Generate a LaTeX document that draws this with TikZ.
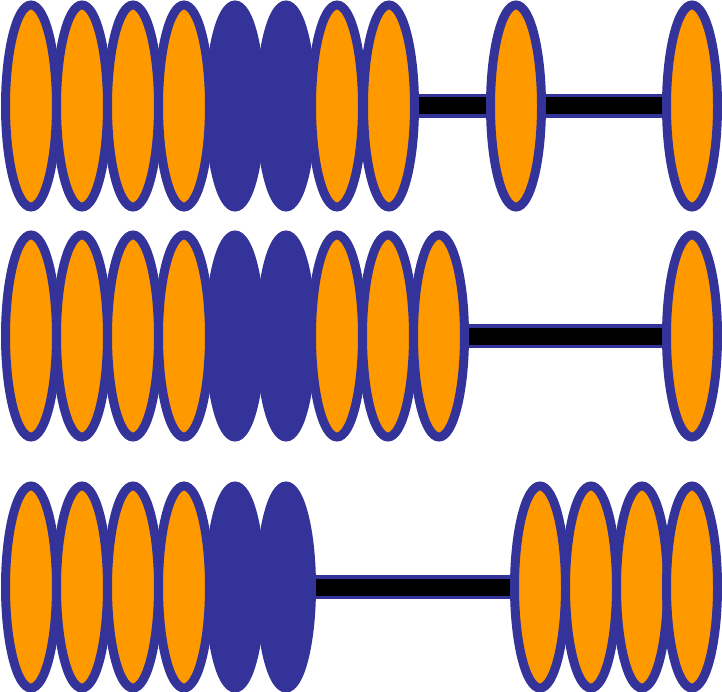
\documentclass[tikz,border=0pt]{standalone}
\usetikzlibrary{shapes.geometric,backgrounds}
\definecolor{beadblue}{HTML}{333399}
\definecolor{beadorange}{HTML}{FF9900}
\tikzset{
	bead/.style={ellipse,draw=beadblue,fill=beadorange,line width=9pt,
		minimum width=51pt,minimum height=202pt,inner sep=0pt},
	darkbead/.style={bead,fill=beadblue},
	rod/.style={line width=24pt,draw=beadblue},
	rodcore/.style={line width=17pt,draw=black}
}
\begin{document}
\begin{tikzpicture}[x=1pt,y=-1pt]
	\useasboundingbox (0,0) rectangle (722,692);
	
	% first row
	\node[bead] (r1a) at (31,106){};
	\node[bead] (r1b) at (82,106){};
	\node[bead] (r1c) at (133,106){};
	\node[bead] (r1d) at (184,106){};
	\node[darkbead] (r1e) at (235,106){};
	\node[darkbead] (r1f) at (286,106){};
	\node[bead] (r1g) at (337,106){};
	\node[bead] (r1h) at (389,106){};
	\node[bead] (r1i) at (516,106){};
	\node[bead] (r1j) at (692,106){};
	
	% second row
	\node[bead] (r2a) at (31,336){};
	\node[bead] (r2b) at (82,336){};
	\node[bead] (r2c) at (133,336){};
	\node[bead] (r2d) at (184,336){};
	\node[darkbead] (r2e) at (235,336){};
	\node[darkbead] (r2f) at (286,336){};
	\node[bead] (r2g) at (337,336){};
	\node[bead] (r2h) at (388,336){};
	\node[bead] (r2i) at (439,336){};
	\node[bead] (r2j) at (692,336){};
	
	% third row
	\node[bead] (r3a) at (31,587){};
	\node[bead] (r3b) at (82,587){};
	\node[bead] (r3c) at (133,587){};
	\node[bead] (r3d) at (184,587){};
	\node[darkbead] (r3e) at (235,587){};
	\node[darkbead] (r3f) at (286,587){};
	\node[bead] (r3g) at (540,587){};
	\node[bead] (r3h) at (591,587){};
	\node[bead] (r3i) at (642,587){};
	\node[bead] (r3j) at (692,587){};
	
	% rods
	\begin{scope}[on background layer]
	\draw[rod](r1h.center)--(r1j.center);
	\draw[rodcore](r1h.center)--(r1j.center);
	\draw[rod](r2i.center)--(r2j.center);
	\draw[rodcore](r2i.center)--(r2j.center);
	\draw[rod](r3f.center)--(r3g.center);
	\draw[rodcore](r3f.center)--(r3g.center);
	\end{scope}
\end{tikzpicture}
\end{document}
